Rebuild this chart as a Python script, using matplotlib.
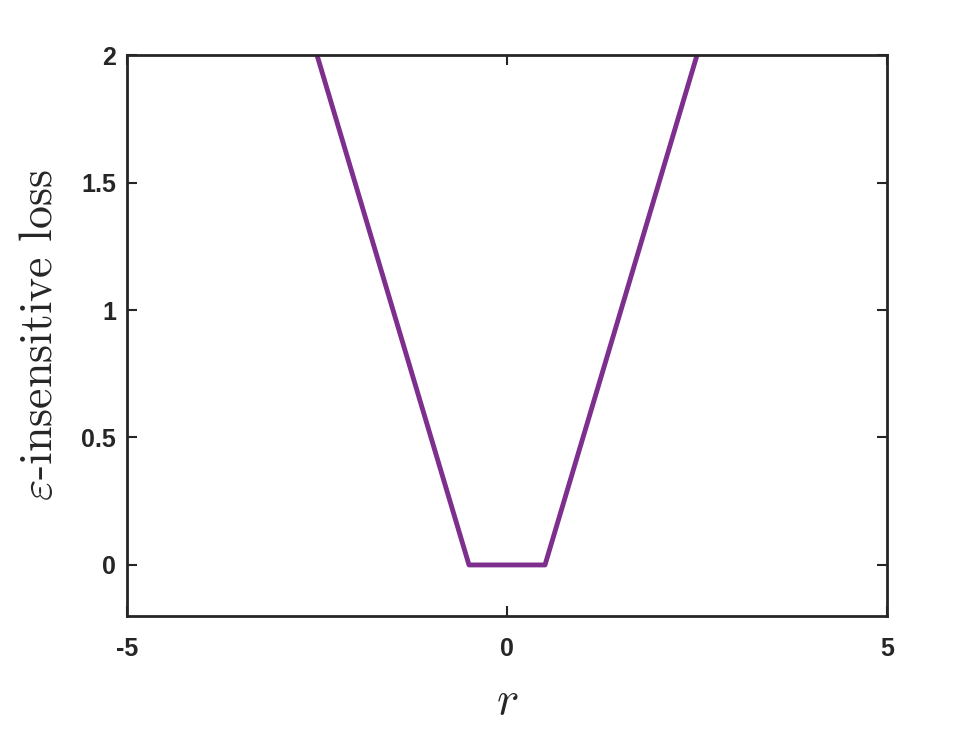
import matplotlib
matplotlib.use("Agg")
import matplotlib.pyplot as plt

r_vals = [-2.5, -0.5, 0.5, 2.5]
loss_vals = [2.0, 0.0, 0.0, 2.0]
xticks = [-5, 0, 5]
yticks = [0, 0.5, 1, 1.5, 2]

plt.rcParams['mathtext.fontset'] = 'cm'
plt.rcParams['font.family'] = ['Liberation Sans', 'DejaVu Sans']

fig = plt.figure(figsize=(9.8, 7.35), dpi=100)
ax = fig.add_axes([0.1296, 0.162, 0.7755, 0.763])
ax.plot(r_vals, loss_vals, color='#7E2F8E', lw=3.5, solid_joinstyle='round')
ax.set_xlim(-5, 5)
ax.set_ylim(-0.2, 2)
ax.set_xticks(xticks)
ax.set_yticks(yticks)
ax.set_xticklabels([str(v) for v in xticks])
ax.set_yticklabels(['0', '0.5', '1', '1.5', '2'])
ax.tick_params(direction='in', length=7, width=1.5, top=True, right=True,
               labelsize=18, colors='#262626')
ax.tick_params(axis='x', pad=15)
ax.tick_params(axis='y', pad=8)
for lab in ax.get_xticklabels() + ax.get_yticklabels():
    lab.set_fontweight('bold')
for s in ax.spines.values():
    s.set_linewidth(2.0)
    s.set_color('#262626')
ax.set_xlabel(r'$r$', fontsize=34, color='#262626', labelpad=14)
ax.set_ylabel(r'$\varepsilon\text{-insensitive loss}$', fontsize=33, color='#262626', labelpad=14)
fig.savefig('out.png', dpi=100)
